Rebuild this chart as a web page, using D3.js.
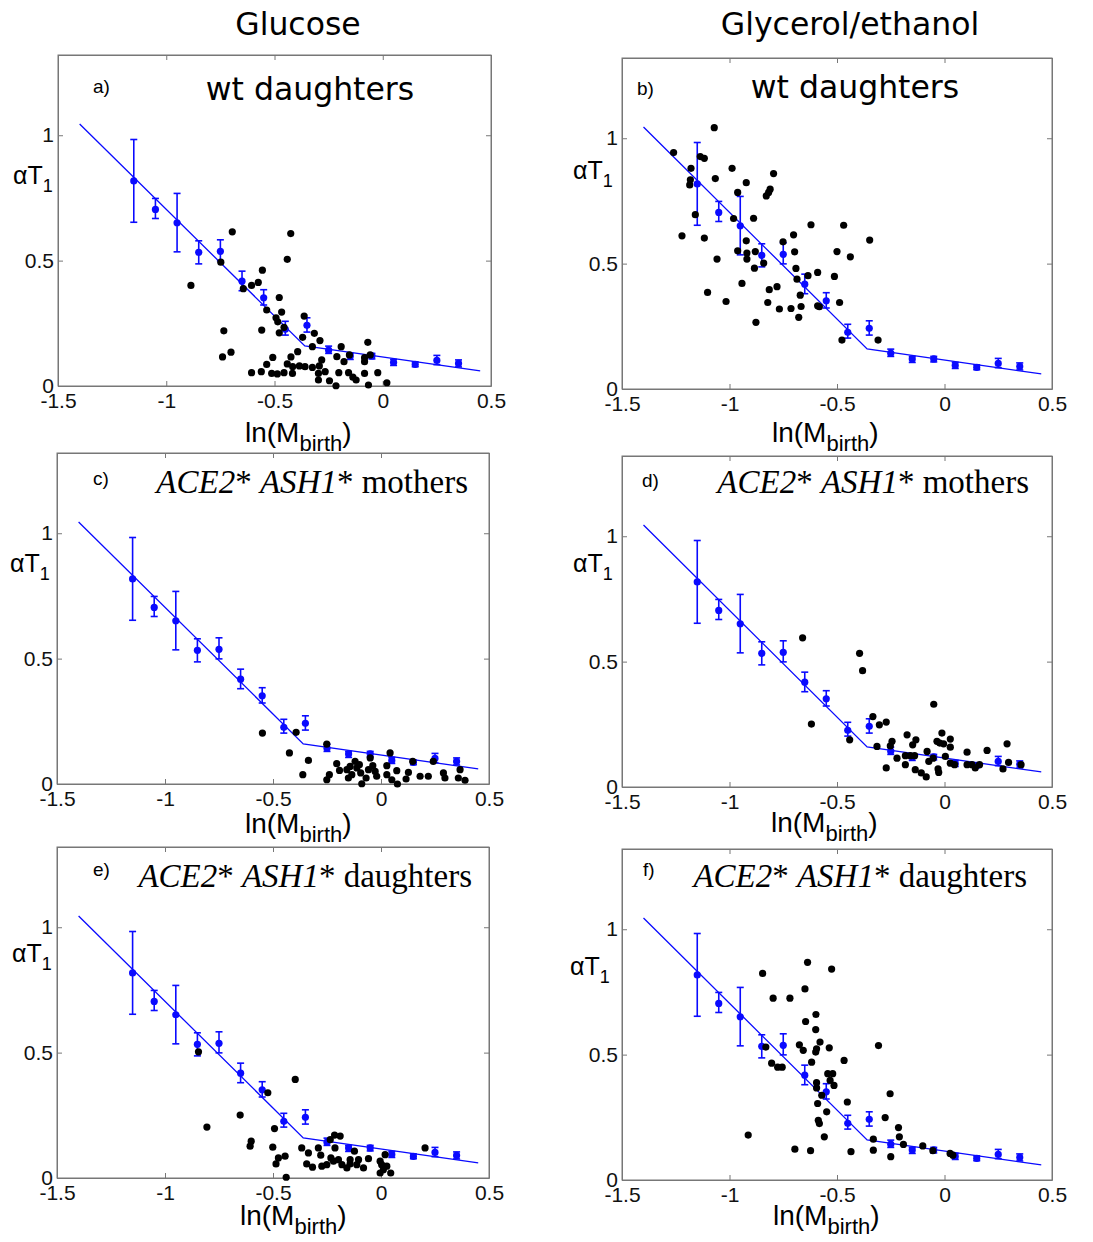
<!DOCTYPE html>
<html>
<head>
<meta charset="utf-8">
<script src="https://cdn.jsdelivr.net/npm/d3@7"></script>
<style>
  body { margin: 0; background: #fff; }
  svg { display: block; }
</style>
</head>
<body>
<div id="root"></div>
<script>
// ---- data ----
const columnTitles = ["Glucose", "Glycerol/ethanol"];
const panelLetters = ["a)", "b)", "c)", "d)", "e)", "f)"];
const xTicks = [-1.5, -1, -0.5, 0, 0.5];
const yTicks = [0, 0.5, 1];

// binned wt mothers (blue, same in every panel)
const binX = [-1.15, -1.05, -0.95, -0.85, -0.75, -0.65, -0.55, -0.45, -0.35, -0.25, -0.15, -0.05, 0.05, 0.15, 0.25, 0.35];
const binMean = [0.818, 0.704, 0.651, 0.533, 0.537, 0.418, 0.352, 0.226, 0.242, 0.143, 0.120, 0.120, 0.094, 0.086, 0.102, 0.090];
const binLow = [0.653, 0.668, 0.535, 0.487, 0.499, 0.380, 0.323, 0.203, 0.215, 0.130, 0.106, 0.108, 0.082, 0.077, 0.085, 0.076];
const binHigh = [0.983, 0.748, 0.768, 0.579, 0.583, 0.458, 0.384, 0.258, 0.272, 0.159, 0.130, 0.130, 0.106, 0.096, 0.122, 0.104];

// piecewise linear fit
const fitX = [-1.4, -0.36, 0.45];
const fitY = [1.045, 0.16, 0.06];

// single cells (black)
const scatterA = [[-0.695,0.615],[-0.425,0.608],[-0.441,0.505],[-0.748,0.494],[-0.886,0.401],[-0.556,0.462],[-0.575,0.413],[-0.606,0.401],[-0.644,0.388],[-0.478,0.353],[-0.536,0.303],[-0.467,0.295],[-0.493,0.272],[-0.485,0.256],[-0.456,0.234],[-0.478,0.212],[-0.559,0.223],[-0.734,0.220],[-0.363,0.279],[-0.316,0.210],[-0.370,0.194],[-0.290,0.181],[-0.325,0.157],[-0.740,0.116],[-0.701,0.135],[-0.393,0.137],[-0.424,0.116],[-0.508,0.114],[-0.536,0.086],[-0.561,0.057],[-0.606,0.053],[-0.513,0.050],[-0.487,0.048],[-0.456,0.053],[-0.441,0.088],[-0.416,0.077],[-0.385,0.080],[-0.417,0.050],[-0.325,0.074],[-0.293,0.080],[-0.282,0.104],[-0.297,0.050],[-0.266,0.057],[-0.297,0.024],[-0.246,0.021],[-0.216,0.001],[-0.192,0.157],[-0.212,0.117],[-0.179,0.097],[-0.154,0.124],[-0.203,0.053],[-0.158,0.053],[-0.138,0.035],[-0.123,0.024],[-0.084,0.113],[-0.084,0.050],[-0.069,0.174],[-0.058,0.124],[-0.023,0.053],[-0.066,0.004],[0.019,0.013],[-0.359,0.077],[-0.084,0.097]];
const scatterB = [[-1.071,1.042],[-1.260,0.943],[-1.179,0.880],[-1.136,0.927],[-1.117,0.920],[-1.182,0.834],[-1.185,0.814],[-0.988,0.880],[-1.066,0.839],[-0.922,0.823],[-0.962,0.784],[-0.795,0.859],[-0.811,0.797],[-0.818,0.784],[-0.829,0.770],[-1.159,0.695],[-0.981,0.680],[-0.888,0.681],[-1.221,0.611],[-1.117,0.602],[-1.058,0.518],[-0.922,0.591],[-0.962,0.551],[-0.919,0.542],[-0.919,0.518],[-0.880,0.548],[-0.884,0.482],[-0.841,0.502],[-0.942,0.421],[-1.102,0.385],[-1.016,0.349],[-0.815,0.396],[-0.779,0.408],[-0.822,0.345],[-0.768,0.319],[-0.714,0.321],[-0.877,0.266],[-0.678,0.286],[-0.667,0.329],[-0.671,0.374],[-0.686,0.438],[-0.691,0.481],[-0.697,0.547],[-0.702,0.615],[-0.751,0.587],[-0.621,0.655],[-0.635,0.452],[-0.590,0.465],[-0.590,0.332],[-0.582,0.328],[-0.512,0.449],[-0.500,0.548],[-0.469,0.653],[-0.438,0.527],[-0.488,0.345],[-0.477,0.195],[-0.348,0.594],[-0.309,0.195]];
const scatterC = [[-0.549,0.203],[-0.393,0.206],[-0.424,0.124],[-0.336,0.094],[-0.362,0.037],[-0.251,0.159],[-0.251,0.017],[-0.239,0.037],[-0.205,0.081],[-0.192,0.054],[-0.158,0.057],[-0.151,0.024],[-0.135,0.037],[-0.120,0.090],[-0.112,0.064],[-0.100,0.077],[-0.094,0.044],[-0.089,0.001],[-0.069,0.024],[-0.058,0.057],[-0.050,0.104],[-0.038,0.073],[-0.027,0.050],[0.027,0.073],[0.027,0.037],[0.042,0.124],[0.050,0.017],[0.073,0.053],[0.076,0.000],[0.116,0.020],[0.127,0.046],[0.147,0.090],[0.181,0.031],[0.219,0.031],[0.242,0.090],[0.289,0.044],[0.296,0.024],[0.358,0.024],[0.366,0.057],[0.389,0.015],[-0.020,0.031],[-0.143,0.070]];
const scatterD = [[-0.660,0.595],[-0.395,0.533],[-0.381,0.464],[-0.619,0.251],[-0.050,0.330],[-0.333,0.281],[-0.303,0.248],[-0.271,0.259],[-0.441,0.188],[-0.314,0.162],[-0.244,0.182],[-0.252,0.164],[-0.174,0.208],[-0.133,0.188],[-0.148,0.168],[-0.012,0.215],[-0.035,0.182],[-0.022,0.175],[0.027,0.191],[0.027,0.159],[-0.081,0.142],[-0.182,0.125],[-0.159,0.125],[-0.139,0.125],[-0.182,0.089],[-0.073,0.102],[-0.053,0.115],[0.004,0.122],[0.027,0.095],[0.047,0.089],[-0.271,0.076],[-0.136,0.069],[-0.108,0.056],[-0.085,0.040],[-0.030,0.072],[-0.027,0.058],[0.105,0.139],[0.105,0.089],[0.128,0.089],[0.143,0.076],[0.163,0.089],[0.198,0.146],[0.272,0.072],[0.298,0.098],[0.291,0.172],[0.356,0.089],[-0.221,0.115],[-0.004,0.172]];
const scatterE = [[-0.845,0.503],[-0.806,0.203],[-0.397,0.393],[-0.524,0.340],[-0.652,0.251],[-0.493,0.197],[-0.601,0.147],[-0.606,0.127],[-0.501,0.123],[-0.475,0.080],[-0.486,0.056],[-0.444,0.087],[-0.439,0.003],[-0.367,0.120],[-0.336,0.100],[-0.344,0.056],[-0.317,0.043],[-0.290,0.120],[-0.279,0.091],[-0.274,0.047],[-0.251,0.053],[-0.232,0.080],[-0.235,0.153],[-0.215,0.171],[-0.189,0.167],[-0.213,0.120],[-0.220,0.067],[-0.197,0.073],[-0.181,0.053],[-0.158,0.040],[-0.143,0.073],[-0.123,0.107],[-0.104,0.073],[-0.112,0.053],[-0.081,0.040],[-0.058,0.077],[0.003,0.053],[-0.004,0.067],[0.011,0.033],[0.027,0.047],[0.045,0.020],[0.019,0.093],[0.204,0.120],[-0.004,0.020],[-0.143,0.056]];
const scatterF = [[-0.637,0.868],[-0.525,0.841],[-0.846,0.824],[-0.649,0.762],[-0.797,0.725],[-0.719,0.725],[-0.598,0.660],[-0.646,0.632],[-0.599,0.600],[-0.579,0.550],[-0.595,0.523],[-0.599,0.510],[-0.675,0.539],[-0.657,0.517],[-0.536,0.527],[-0.307,0.536],[-0.831,0.530],[-0.804,0.466],[-0.776,0.450],[-0.755,0.450],[-0.618,0.470],[-0.467,0.477],[-0.543,0.424],[-0.520,0.424],[-0.532,0.397],[-0.514,0.377],[-0.595,0.388],[-0.595,0.367],[-0.590,0.305],[-0.571,0.338],[-0.548,0.272],[-0.587,0.238],[-0.582,0.225],[-0.452,0.311],[-0.559,0.172],[-0.913,0.179],[-0.696,0.123],[-0.623,0.117],[-0.435,0.113],[-0.253,0.344],[-0.276,0.249],[-0.214,0.209],[-0.210,0.172],[-0.191,0.142],[-0.331,0.163],[-0.331,0.119],[-0.250,0.093],[-0.101,0.136],[0.026,0.106],[0.039,0.099],[-0.054,0.117]];

// panel titles: [text, style] parts
const titleWt = [["wt daughters", "sans"]];
const titleMothers = [["ACE2", "it"], ["* ", "rm"], ["ASH1", "it"], ["* mothers", "rm"]];
const titleDaughters = [["ACE2", "it"], ["* ", "rm"], ["ASH1", "it"], ["* daughters", "rm"]];

// ---- layout ----
const W = 1093, H = 1242;
const blue = "#0a0aff";
const axisColor = "#777";

const panels = [
  { title: titleWt, pts: scatterA, x0: 58, x1: 491, yb: 386, tx: 310, ty: 100, anchor: "middle", lx: 93, ly: 93, ax: 13, ay: 184, bx: 245, by: 442 },
  { title: titleWt, pts: scatterB, x0: 622, x1: 1052, yb: 389, tx: 855, ty: 98, anchor: "middle", lx: 637, ly: 95, ax: 573, ay: 179, bx: 772, by: 442 },
  { title: titleMothers, pts: scatterC, x0: 57, x1: 489, yb: 784, tx: 468, ty: 493, anchor: "end", lx: 93, ly: 485, ax: 10, ay: 572, bx: 245, by: 833 },
  { title: titleMothers, pts: scatterD, x0: 622, x1: 1052, yb: 787, tx: 1029, ty: 493, anchor: "end", lx: 642, ly: 487, ax: 573, ay: 572, bx: 771, by: 832 },
  { title: titleDaughters, pts: scatterE, x0: 57, x1: 489, yb: 1178, tx: 472, ty: 887, anchor: "end", lx: 93, ly: 876, ax: 12, ay: 962, bx: 240, by: 1225 },
  { title: titleDaughters, pts: scatterF, x0: 622, x1: 1052, yb: 1180, tx: 1027, ty: 887, anchor: "end", lx: 643, ly: 876, ax: 570, ay: 975, bx: 773, by: 1225 }
];
const plotH = 331;

const svg = d3.select("#root").append("svg")
  .attr("width", W)
  .attr("height", H)
  .style("font-family", "'Liberation Sans', Arial, sans-serif");

// column headers
svg.selectAll("text.col")
  .data(columnTitles)
  .enter()
  .append("text")
  .attr("class", "col")
  .attr("x", (d, i) => i === 0 ? 298 : 850)
  .attr("y", 35)
  .attr("text-anchor", "middle")
  .style("font-family", "'DejaVu Sans', Verdana, sans-serif")
  .style("font-size", "31.5px")
  .text(d => d);

panels.forEach((p, i) => {
  const x = d3.scaleLinear().domain([-1.5, 0.5]).range([p.x0, p.x1]);
  const y = d3.scaleLinear().domain([0, 1.32]).range([p.yb, p.yb - plotH]);
  const g = svg.append("g");

  // frame + inward ticks on all four sides
  g.append("rect")
    .attr("x", p.x0).attr("y", p.yb - plotH)
    .attr("width", p.x1 - p.x0).attr("height", plotH)
    .attr("fill", "none").attr("stroke", axisColor);

  const fmt = d => String(d);
  const axes = [
    g.append("g").attr("transform", `translate(0,${p.yb})`)
      .call(d3.axisBottom(x).tickValues(xTicks).tickSizeInner(-5).tickSizeOuter(0).tickPadding(7).tickFormat(fmt)),
    g.append("g").attr("transform", `translate(0,${p.yb - plotH})`)
      .call(d3.axisTop(x).tickValues(xTicks).tickSizeInner(-5).tickSizeOuter(0).tickFormat("")),
    g.append("g").attr("transform", `translate(${p.x0},0)`)
      .call(d3.axisLeft(y).tickValues(yTicks).tickSizeInner(-5).tickSizeOuter(0).tickPadding(4).tickFormat(fmt)),
    g.append("g").attr("transform", `translate(${p.x1},0)`)
      .call(d3.axisRight(y).tickValues(yTicks).tickSizeInner(-5).tickSizeOuter(0).tickFormat(""))
  ];
  axes.forEach(a => {
    a.select(".domain").attr("stroke", axisColor);
    a.selectAll(".tick line").attr("stroke", axisColor);
    a.selectAll(".tick text")
      .attr("fill", "#111")
      .style("font-family", "'Liberation Sans', Arial, sans-serif")
      .style("font-size", "21px");
  });

  // fit line
  const line = d3.line().x(d => x(d[0])).y(d => y(d[1]));
  g.append("path")
    .datum(fitX.map((v, k) => [v, fitY[k]]))
    .attr("d", line)
    .attr("fill", "none")
    .attr("stroke", blue)
    .attr("stroke-width", 1.3);

  // binned means with error bars
  const bins = binX.map((v, k) => ({ x: v, m: binMean[k], lo: binLow[k], hi: binHigh[k] }));
  const eb = g.append("g").attr("stroke", blue).attr("stroke-width", 1.6);
  eb.selectAll("line.v").data(bins).enter().append("line")
    .attr("x1", d => x(d.x)).attr("x2", d => x(d.x))
    .attr("y1", d => y(d.lo)).attr("y2", d => y(d.hi));
  eb.selectAll("line.hi").data(bins).enter().append("line")
    .attr("x1", d => x(d.x) - 3.5).attr("x2", d => x(d.x) + 3.5)
    .attr("y1", d => y(d.hi)).attr("y2", d => y(d.hi));
  eb.selectAll("line.lo").data(bins).enter().append("line")
    .attr("x1", d => x(d.x) - 3.5).attr("x2", d => x(d.x) + 3.5)
    .attr("y1", d => y(d.lo)).attr("y2", d => y(d.lo));
  g.selectAll("circle.bin").data(bins).enter().append("circle")
    .attr("cx", d => x(d.x)).attr("cy", d => y(d.m))
    .attr("r", 3.6).attr("fill", blue);

  // individual cells
  g.selectAll("circle.cell").data(p.pts).enter().append("circle")
    .attr("cx", d => x(d[0])).attr("cy", d => y(d[1]))
    .attr("r", 3.6).attr("fill", "#000");

  // panel letter
  g.append("text")
    .attr("x", p.lx).attr("y", p.ly)
    .style("font-size", "19px")
    .text(panelLetters[i]);

  // panel title
  const t = g.append("text")
    .attr("x", p.tx).attr("y", p.ty)
    .attr("text-anchor", p.anchor);
  p.title.forEach(([txt, st]) => {
    const s = t.append("tspan").text(txt);
    if (st === "sans") {
      s.style("font-family", "'DejaVu Sans', Verdana, sans-serif").style("font-size", "31.5px");
    } else {
      s.style("font-family", "'Liberation Serif', 'Times New Roman', serif")
        .style("font-size", "33px")
        .style("font-style", st === "it" ? "italic" : "normal");
    }
  });

  // y label: alpha T_1
  const yl = g.append("text").attr("x", p.ax).attr("y", p.ay).style("font-size", "25px");
  yl.append("tspan").text("αT");
  yl.append("tspan").attr("dy", 8).style("font-size", "18px").text("1");

  // x label: ln(M_birth)
  const xl = g.append("text").attr("x", p.bx).attr("y", p.by).style("font-size", "28px");
  xl.append("tspan").text("ln(M");
  xl.append("tspan").attr("dy", 9).style("font-size", "22px").text("birth");
  xl.append("tspan").attr("dy", -9).text(")");
});
</script>
</body>
</html>
